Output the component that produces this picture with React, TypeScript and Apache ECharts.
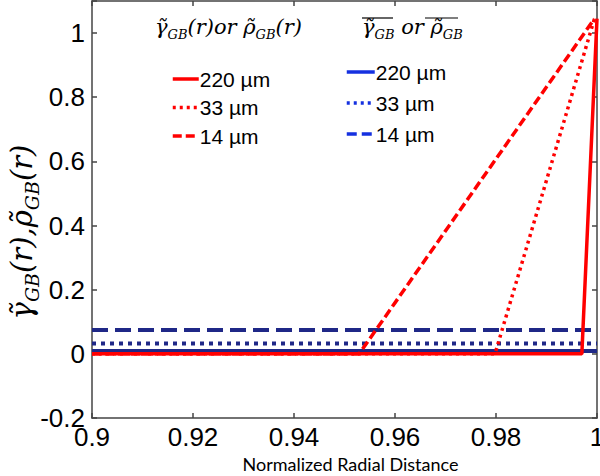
import React, { useEffect, useRef } from 'react';
import * as echarts from 'echarts';

// ---- data ----
const xTicks = [0.9, 0.92, 0.94, 0.96, 0.98, 1];
const yTicks = [-0.2, 0, 0.2, 0.4, 0.6, 0.8, 1];
const sizeLabels = ['220 µm', '33 µm', '14 µm'];
// local profiles gamma~_GB(r): [normalized radius, value]
const local220 = [[0.9, 0], [0.997, 0], [1.0, 1.045]];
const local33 = [[0.9, 0], [0.9798, 0], [0.9995, 1.045]];
const local14 = [[0.9, 0], [0.9529, 0], [0.9995, 1.045]];
// average values (bar gamma_GB)
const avgValues = [0.009, 0.032, 0.074];
const rRange = [0.9, 1.0];

const RED = '#ff0000';
const NAVY = '#1f2887';
const LEGEND_BLUE = '#1530e0';
const redTypes: any[] = ['solid', [3, 4], [9, 4]];
const blueTypes: any[] = ['solid', [4, 5], [16, 7]];
const redLegendTypes: any[] = ['solid', [3, 4], [9, 4]];
const blueLegendTypes: any[] = ['solid', [3, 4], [10, 5]];

export default function App() {
  const ref = useRef<HTMLDivElement>(null);
  useEffect(() => {
    if (!ref.current) return;
    const chart = echarts.init(ref.current, null, { renderer: 'svg' });
    const localData = [local220, local33, local14];
    const blueNames = sizeLabels.map((s) => s + ' ');
    const axisLineStyle = { color: '#444', width: 1.5 };
    const series: any[] = [];
    avgValues.forEach((v, i) => {
      series.push({
        name: blueNames[i],
        type: 'line',
        data: rRange.map((r) => [r, v]),
        symbol: 'none',
        lineStyle: { color: NAVY, width: 4, type: blueTypes[i] },
        itemStyle: { color: NAVY },
        z: 2,
      });
    });
    localData.forEach((d, i) => {
      series.push({
        name: sizeLabels[i],
        type: 'line',
        data: d,
        symbol: 'none',
        lineStyle: { color: RED, width: 3.5, type: redTypes[i] },
        itemStyle: { color: RED },
        z: 3,
      });
    });
    const legendText = { fontSize: 21, fontFamily: 'Liberation Sans', color: '#000', lineHeight: 24, padding: [0, 0, 0, -4] };
    const SERIF = 'DejaVu Serif';
    const mathI = { fontFamily: SERIF, fontStyle: 'italic', fontSize: 21, lineHeight: 28, color: '#000' };
    const mathS = { fontFamily: SERIF, fontStyle: 'italic', fontSize: 13, lineHeight: 14, verticalAlign: 'bottom', color: '#000' };
    const yI = { fontFamily: SERIF, fontStyle: 'italic', fontSize: 29, lineHeight: 38, color: '#000' };
    const yS = { fontFamily: SERIF, fontStyle: 'italic', fontSize: 19, lineHeight: 20, verticalAlign: 'bottom', color: '#000' };
    chart.setOption({
      animation: false,
      backgroundColor: '#fff',
      grid: { left: 92, right: 3, top: 1, bottom: 58, outerBoundsMode: 'none', containLabel: false },
      xAxis: [
        {
          type: 'value', min: xTicks[0], max: xTicks[xTicks.length - 1], interval: 0.02, position: 'bottom',
          axisLine: { show: true, onZero: false, lineStyle: axisLineStyle },
          axisTick: { show: true, inside: true, length: 5, lineStyle: axisLineStyle },
          axisLabel: {
            fontSize: 26, fontFamily: 'Liberation Sans', color: '#000', margin: 6,
            formatter: (v: number) => String(+v.toFixed(2)),
          },
          splitLine: { show: false },
          name: 'Normalized Radial Distance', nameLocation: 'middle', nameGap: 37,
          nameTextStyle: { fontFamily: 'Lato', fontSize: 18, lineHeight: 18, color: '#000', padding: [0, 0, 0, 12] },
        },
        {
          type: 'value', min: xTicks[0], max: xTicks[xTicks.length - 1], interval: 0.02, position: 'top',
          axisLine: { show: true, onZero: false, lineStyle: axisLineStyle },
          axisTick: { show: true, inside: true, length: 5, lineStyle: axisLineStyle },
          axisLabel: { show: false }, splitLine: { show: false },
        },
      ],
      yAxis: [
        {
          type: 'value', min: yTicks[0], max: 1.1, interval: 0.2, position: 'left',
          axisLine: { show: true, onZero: false, lineStyle: axisLineStyle },
          axisTick: { show: true, inside: true, length: 5, lineStyle: axisLineStyle },
          axisLabel: {
            fontSize: 26, fontFamily: 'Liberation Sans', color: '#000', margin: 7,
            formatter: (v: number) => (v > 1.05 ? '' : String(+v.toFixed(1))),
          },
          splitLine: { show: false },
        },
        {
          type: 'value', min: yTicks[0], max: 1.1, interval: 0.2, position: 'right',
          axisLine: { show: true, onZero: false, lineStyle: axisLineStyle },
          axisTick: { show: true, inside: true, length: 5, lineStyle: axisLineStyle },
          axisLabel: { show: false }, splitLine: { show: false },
        },
      ],
      legend: [
        {
          data: sizeLabels.map((n, i) => ({
            name: n,
            lineStyle: { color: RED, width: 3.5, type: redLegendTypes[i] },
            itemStyle: { opacity: 0 },
          })),
          orient: 'vertical', left: 171, top: 67, padding: 0, itemWidth: 26, itemHeight: 14, itemGap: 4.5,
          selectedMode: false, textStyle: legendText,
        },
        {
          data: blueNames.map((n, i) => ({
            name: n,
            lineStyle: { color: LEGEND_BLUE, width: 3.5, type: blueLegendTypes[i] },
            itemStyle: { opacity: 0 },
          })),
          formatter: (n: string) => n.trim(),
          orient: 'vertical', left: 345, top: 60, padding: 0, itemWidth: 28, itemHeight: 14, itemGap: 7,
          selectedMode: false, textStyle: legendText,
        },
      ],
      graphic: [
        {
          type: 'text', left: 155, top: 16, z: 10,
          style: {
            text: '{i|γ\u0303}{s|GB}{i|(r)or ρ\u0303}{s|GB}{i|(r)}',
            rich: { i: mathI, s: mathS },
          },
        },
        {
          type: 'text', left: 362, top: 16, z: 10,
          style: {
            text: '{i|γ\u0303}{s|GB}{i| or ρ\u0303}{s|GB}',
            rich: { i: mathI, s: mathS },
          },
        },
        { type: 'line', shape: { x1: 362, y1: 18, x2: 393, y2: 18 }, style: { stroke: '#000', lineWidth: 1.2 }, z: 10 },
        { type: 'line', shape: { x1: 425, y1: 18, x2: 458, y2: 18 }, style: { stroke: '#000', lineWidth: 1.2 }, z: 10 },
        {
          type: 'text', x: 22, y: 232, rotation: Math.PI / 2, z: 10,
          style: {
            text: '{i|γ\u0303}{s|GB}{i|(r),ρ\u0303}{s|GB}{i|(r)}',
            rich: { i: yI, s: yS },
            align: 'center', verticalAlign: 'middle',
          },
        },
      ],
      series,
    });
    return () => chart.dispose();
  }, []);
  return <div ref={ref} style={{ position: 'fixed', left: 0, top: 0, width: 600, height: 476 }} />;
}
